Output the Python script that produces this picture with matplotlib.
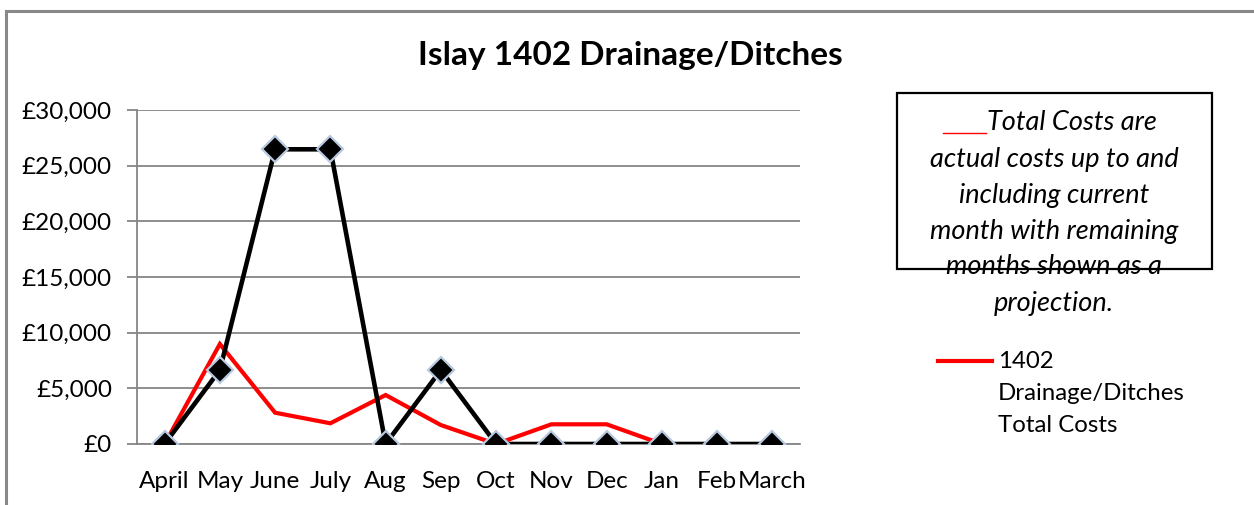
import matplotlib
matplotlib.use("Agg")
import matplotlib.pyplot as plt
import numpy as np
from matplotlib.ticker import FuncFormatter, FixedLocator
from matplotlib.lines import Line2D
from matplotlib.patches import Rectangle

months = ["April", "May", "June", "July", "Aug", "Sep", "Oct", "Nov", "Dec", "Jan", "Feb", "March"]
monthly_costs = [0, 6650, 26470, 26470, 0, 6650, 0, 0, 0, 0, 0, 0]
total_costs = [0, 8980, 2810, 1860, 4400, 1700, 0, 1770, 1770, 0, np.nan, np.nan]
y_ticks = [0, 5000, 10000, 15000, 20000, 25000, 30000]

FONT = "Lato"
W, H = 1254, 505
fig = plt.figure(figsize=(W / 100, H / 100), dpi=100)
fig.patch.set_facecolor("white")

def fx(px):
    return px / W

def fy(py):
    return 1 - py / H

ax = fig.add_axes([fx(137), fy(444), fx(800) - fx(137), fy(110) - fy(444)])
x = np.arange(len(months))

ax.plot(x, total_costs, color="#ff0000", lw=3.0, zorder=3, solid_joinstyle="miter")
ax.plot(x, monthly_costs, color="black", lw=3.3, zorder=4, marker="D",
        markersize=13, markerfacecolor="black", markeredgecolor="#b9c9e0",
        markeredgewidth=1.6)

ax.set_xlim(-0.5, len(months) - 0.5)
ax.set_ylim(0, 30000)
ax.yaxis.set_major_locator(FixedLocator(y_ticks))
ax.yaxis.set_major_formatter(FuncFormatter(lambda v, p: f"£{v:,.0f}"))
ax.set_xticks(x)
ax.set_xticklabels(months)
ax.grid(axis="y", color="#868686", lw=1.3)
ax.set_axisbelow(True)
for s in ["top", "right"]:
    ax.spines[s].set_visible(False)
for s in ["left", "bottom"]:
    ax.spines[s].set_color("#868686")
    ax.spines[s].set_linewidth(1.3)
ax.tick_params(axis="y", length=7, width=1.3, color="#868686", pad=11,
               labelsize=17.5, labelcolor="black")
ax.tick_params(axis="x", length=0, pad=19.5, labelsize=17.5, labelcolor="black")
for lab in ax.get_xticklabels() + ax.get_yticklabels():
    lab.set_fontfamily(FONT)

# Title
fig.text(fx(630), fy(55), "Islay 1402 Drainage/Ditches", ha="center", va="center",
         fontsize=24, fontweight="bold", family=FONT)

# Figure frame (top and left)
fig.add_artist(Line2D([fx(6), fx(6)], [fy(11), 0], color="#888888", lw=2.2))
fig.add_artist(Line2D([fx(6), 1], [fy(11), fy(11)], color="#888888", lw=2.2))

# Note box
fig.add_artist(Rectangle((fx(897), fy(269)), fx(1212) - fx(897), fy(93) - fy(269),
                         fill=False, edgecolor="black", lw=1.6, transform=fig.transFigure))
fig.add_artist(Line2D([fx(943), fx(986)], [fy(133), fy(133)], color="#ff0000", lw=1.0))
fig.text(fx(987), fy(123), "Total Costs are", ha="left", va="center",
         fontsize=19.5, style="italic", family=FONT)
note_lines = ["actual costs up to and", "including current", "month with remaining",
              "months shown as a", "projection."]
for i, ln in enumerate(note_lines):
    fig.text(fx(1054), fy(159 + 36 * i), ln, ha="center", va="center",
             fontsize=19.5, style="italic", family=FONT)

# Legend
fig.add_artist(Line2D([fx(938), fx(992)], [fy(361), fy(361)], color="#ff0000", lw=3.0))
leg_lines = ["1402", "Drainage/Ditches", "Total Costs"]
for i, ln in enumerate(leg_lines):
    fig.text(fx(998), fy(361 + 32 * i), ln, ha="left", va="center",
             fontsize=17.3, family=FONT)

fig.savefig("out.png", dpi=100)
